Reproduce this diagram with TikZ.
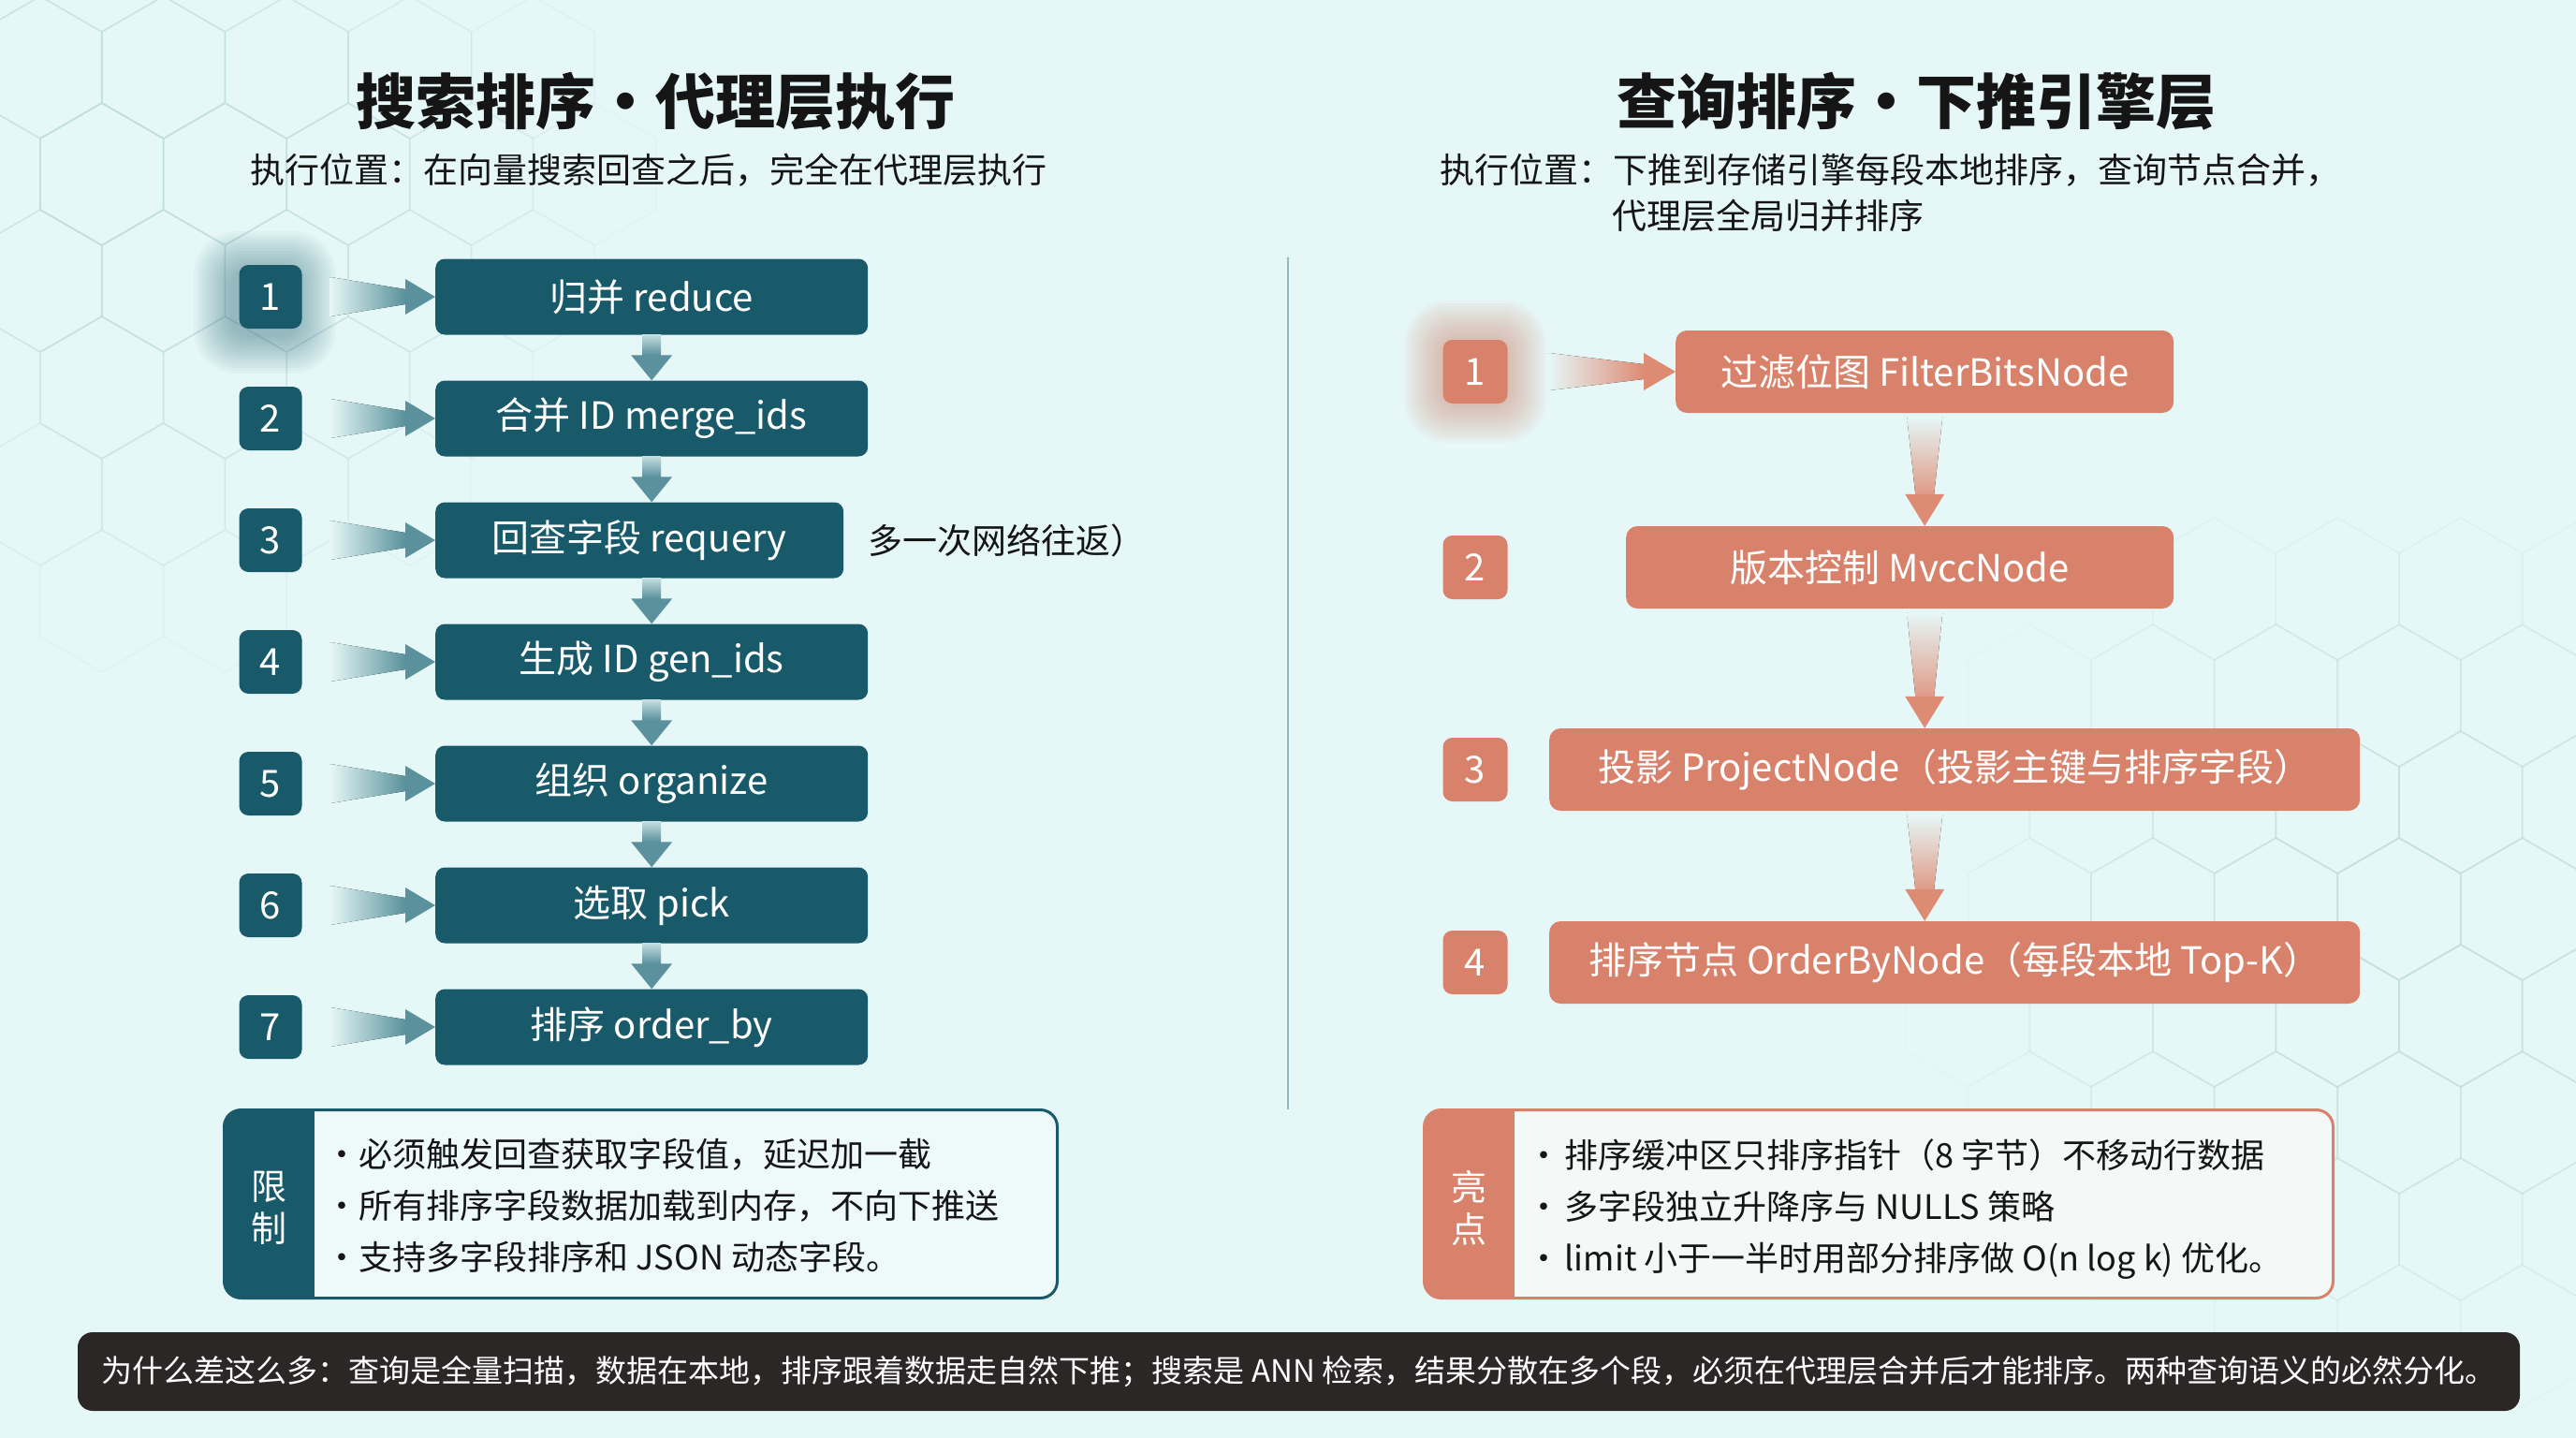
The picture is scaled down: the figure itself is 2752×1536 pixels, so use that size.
\documentclass[tikz,border=0pt]{standalone}
\usepackage{fontspec}
\setmainfont{Noto Sans CJK SC}
\usetikzlibrary{positioning, calc}

\definecolor{bgcol}{HTML}{E6F7F7}
\definecolor{hexcol}{HTML}{BFDCE0}
\definecolor{tealbox}{HTML}{185A6A}
\definecolor{tealarrow}{HTML}{5A919C}
\definecolor{salmon}{HTML}{D9826B}
\definecolor{salmonarrow}{HTML}{DE8B74}
\definecolor{inkcol}{HTML}{151515}
\definecolor{bannercol}{HTML}{2B2727}
\definecolor{limfill}{HTML}{EEF9F9}
\definecolor{hlfill}{HTML}{F4F8F6}
\definecolor{dividercol}{HTML}{93B8BD}

\newcommand{\fTitle}{\fontsize{64}{72}\selectfont\bfseries}
\newcommand{\fSub}{\fontsize{37}{48}\selectfont}
\newcommand{\fBox}{\fontsize{40}{48}\selectfont}
\newcommand{\fPanel}{\fontsize{36}{55}\selectfont}
\newcommand{\fTab}{\fontsize{38}{45}\selectfont}
\newcommand{\fBanner}{\fontsize{33}{40}\selectfont}
\newcommand{\bul}{\makebox[24pt][l]{\hspace{6pt}\makebox[0pt]{\textbullet}}}

\begin{document}
\begin{tikzpicture}[
        x=1pt, y=-1pt,
        badge/.style={rectangle, rounded corners=10, fill=tealbox, text=white, font=\fBox, minimum width=67, minimum height=68, inner sep=0},
        rbadge/.style={badge, fill=salmon, minimum width=69},
        stepbox/.style={rectangle, rounded corners=10, fill=tealbox, text=white, font=\fBox, minimum height=81, inner sep=0},
        rstepbox/.style={stepbox, rounded corners=12, fill=salmon, minimum height=88},
        heading/.style={font=\fTitle, text=inkcol, inner sep=0},
        subline/.style={font=\fSub, text=inkcol, inner sep=0},
        note/.style={font=\fSub, text=inkcol, inner sep=0},
        panel/.style={rectangle, rounded corners=18, line width=3, minimum height=198, inner sep=0},
        tablabel/.style={font=\fTab, text=white, align=center, inner sep=0},
        bullets/.style={font=\fPanel, text=inkcol, align=left, inner sep=0},
        banner/.style={rectangle, rounded corners=16, fill=bannercol, text=white, font=\fBanner, minimum width=2609, minimum height=84, inner sep=0},
        hexline/.style={hexcol, line width=1.6},
        node distance=26pt,
    ]

    % Background and hexagon pattern
    \useasboundingbox (0,0) rectangle (2752,1536);
    \fill[bgcol] (0,0) rectangle (2752,1536);
    \begin{scope}
        \clip (0,0) rectangle (2752,1536);
        \foreach \row in {0,...,7} {
            \foreach \col in {0,...,5} {
                \pgfmathsetmacro{\hx}{43+131.6*\col+65.8*mod(\row,2)}
                \pgfmathsetmacro{\hy}{72+114*\row}
                \pgfmathsetmacro{\hop}{max(0,0.9-veclen(\hx-120,\hy-150)/650)}
                \draw[hexline, opacity=\hop, shift={(\hx,\hy)}] (30:76) -- (90:76) -- (150:76) -- (210:76) -- (270:76) -- (330:76) -- cycle;
            }
        }
        \foreach \row in {-1,...,7} {
            \foreach \col in {-5,...,2} {
                \pgfmathsetmacro{\hx}{2563+131.6*\col+65.8*mod(\row+8,2)}
                \pgfmathsetmacro{\hy}{743+114*\row}
                \pgfmathsetmacro{\hop}{max(0,0.8-veclen(\hx-2560,\hy-1000)/650)}
                \draw[hexline, opacity=\hop, shift={(\hx,\hy)}] (30:76) -- (90:76) -- (150:76) -- (210:76) -- (270:76) -- (330:76) -- cycle;
            }
        }
    \end{scope}

    % Titles
    \node[heading] (ltitle) at (700,108) {搜索排序・代理层执行};
    \node[subline] (lsub) at (693,182) {执行位置：在向量搜索回查之后，完全在代理层执行};
    \node[heading] (rtitle) at (2047,108) {查询排序・下推引擎层};
    \node[subline, anchor=west] (rsub) at (1538,182) {执行位置：下推到存储引擎每段本地排序，查询节点合并，};
    \node[subline, anchor=west] (rsub2) at (1722,230) {代理层全局归并排序};

    % Divider
    \draw[dividercol, line width=2] (1376,275) -- (1376,1185);

    % Glows behind the first badges
    \coordinate (g1) at (283,323);
    \coordinate (g2) at (1576,397);
    \foreach \k in {1,...,14} {
        \fill[tealbox, opacity=0.03, rounded corners={18+2*\k}] ($(g1)+(-34-3*\k,-34-3*\k)$) rectangle ($(g1)+(34+3*\k,34+3*\k)$);
        \fill[salmon, opacity=0.04, rounded corners={18+2*\k}] ($(g2)+(-34-3*\k,-34-3*\k)$) rectangle ($(g2)+(34+3*\k,34+3*\k)$);
    }

    % Left column
    \foreach \i/\txt/\w in {1/{归并 reduce}/462, 2/{合并 ID merge\_ids}/462, 3/{回查字段 requery}/436, 4/{生成 ID gen\_ids}/462, 5/{组织 organize}/462, 6/{选取 pick}/462, 7/{排序 order\_by}/462} {
        \node[badge] (n\i) at (289,{317+(\i-1)*130}) {\i};
        \node[stepbox, minimum width=\w, anchor=west] (b\i) at (465,{317+(\i-1)*130}) {\txt};
    }
    \node[note, right=26pt of b3] (b3note) {多一次网络往返）};

    % Left arrows
    \foreach \i in {1,...,7} {
        \fill[left color=bgcol, right color=tealarrow] ($(n\i.east)+(30,-21)$) -- ($(b\i.west)+(-32,-8)$) -- ($(b\i.west)+(-32,8)$) -- ($(n\i.east)+(30,21)$) -- cycle;
        \fill[tealarrow] ($(b\i.west)+(-32,-19)$) -- (b\i.west) -- ($(b\i.west)+(-32,19)$) -- cycle;
    }
    \foreach \i in {1,...,6} {
        \pgfmathtruncatemacro{\j}{\i+1}
        \coordinate (s) at (b\i.south -| b1.center);
        \coordinate (t) at (b\j.north -| b1.center);
        \fill[top color=tealarrow!25!bgcol, bottom color=tealarrow] ($(s)+(-10,0)$) rectangle ($(t)+(10,-27)$);
        \fill[tealarrow] ($(t)+(-22,-27)$) -- (t) -- ($(t)+(22,-27)$) -- cycle;
    }

    % Right column
    \node[rbadge] (r1n) at (1576,397) {1};
    \node[rstepbox, minimum width=532, anchor=west] (r1) at (1790,397) {过滤位图 FilterBitsNode};
    \node[rbadge] (r2n) at (1576,606) {2};
    \node[rstepbox, minimum width=585, anchor=west] (r2) at (1737,606) {版本控制 MvccNode};
    \node[rbadge] (r3n) at (1576,822) {3};
    \node[rstepbox, minimum width=866, anchor=west] (r3) at (1655,822) {投影 ProjectNode（投影主键与排序字段）};
    \node[rbadge] (r4n) at (1576,1028) {4};
    \node[rstepbox, minimum width=866, anchor=west] (r4) at (1655,1028) {排序节点 OrderByNode（每段本地 Top-K）};

    % Right arrows
    \fill[left color=bgcol, right color=salmonarrow] ($(r1n.east)+(44,-20)$) -- ($(r1.west)+(-34,-8)$) -- ($(r1.west)+(-34,8)$) -- ($(r1n.east)+(44,20)$) -- cycle;
    \fill[salmonarrow] ($(r1.west)+(-34,-20)$) -- (r1.west) -- ($(r1.west)+(-34,20)$) -- cycle;
    \foreach \a/\b in {r1/r2, r2/r3, r3/r4} {
        \coordinate (s) at (\a.south -| r1.south);
        \coordinate (t) at (\b.north -| r1.south);
        \fill[top color=bgcol, bottom color=salmonarrow!85!bgcol] ($(s)+(-19,4)$) -- ($(s)+(19,4)$) -- ($(t)+(10,-34)$) -- ($(t)+(-10,-34)$) -- cycle;
        \fill[salmonarrow] ($(t)+(-21,-34)$) -- (t) -- ($(t)+(21,-34)$) -- cycle;
    }

    % Bottom panels
    \node[panel, fill=limfill, minimum width=887] (lim) at (684.5,1286) {};
    \begin{scope}
        \clip[rounded corners=18] (lim.north west) rectangle (lim.south east);
        \fill[tealbox] (lim.north west) rectangle ($(lim.south west)+(96,0)$);
    \end{scope}
    \draw[tealbox, line width=3, rounded corners=18] (lim.north west) rectangle (lim.south east);
    \node[tablabel] (limtab) at ($(lim.west)+(48,4)$) {限\\制};
    \node[bullets, anchor=west] (limtext) at ($(lim.west)+(120,2)$) {\bul 必须触发回查获取字段值，延迟加一截\\\bul 所有排序字段数据加载到内存，不向下推送\\\bul 支持多字段排序和 JSON 动态字段。};

    \node[panel, fill=hlfill, minimum width=968] (hl) at (2007,1286) {};
    \begin{scope}
        \clip[rounded corners=18] (hl.north west) rectangle (hl.south east);
        \fill[salmon] (hl.north west) rectangle ($(hl.south west)+(96,0)$);
    \end{scope}
    \draw[salmon, line width=3, rounded corners=18] (hl.north west) rectangle (hl.south east);
    \node[tablabel] (hltab) at ($(hl.west)+(48,4)$) {亮\\点};
    \node[bullets, anchor=west] (hltext) at ($(hl.west)+(122,6)$) {\bul\hspace{4pt}排序缓冲区只排序指针（8 字节）不移动行数据\\\bul\hspace{4pt}多字段独立升降序与 NULLS 策略\\\bul\hspace{4pt}limit 小于一半时用部分排序做 O(n log k) 优化。};

    % Banner
    \node[banner] (why) at (1387.5,1465) {为什么差这么多：查询是全量扫描，数据在本地，排序跟着数据走自然下推；搜索是 ANN 检索，结果分散在多个段，必须在代理层合并后才能排序。两种查询语义的必然分化。};

\end{tikzpicture}
\end{document}
